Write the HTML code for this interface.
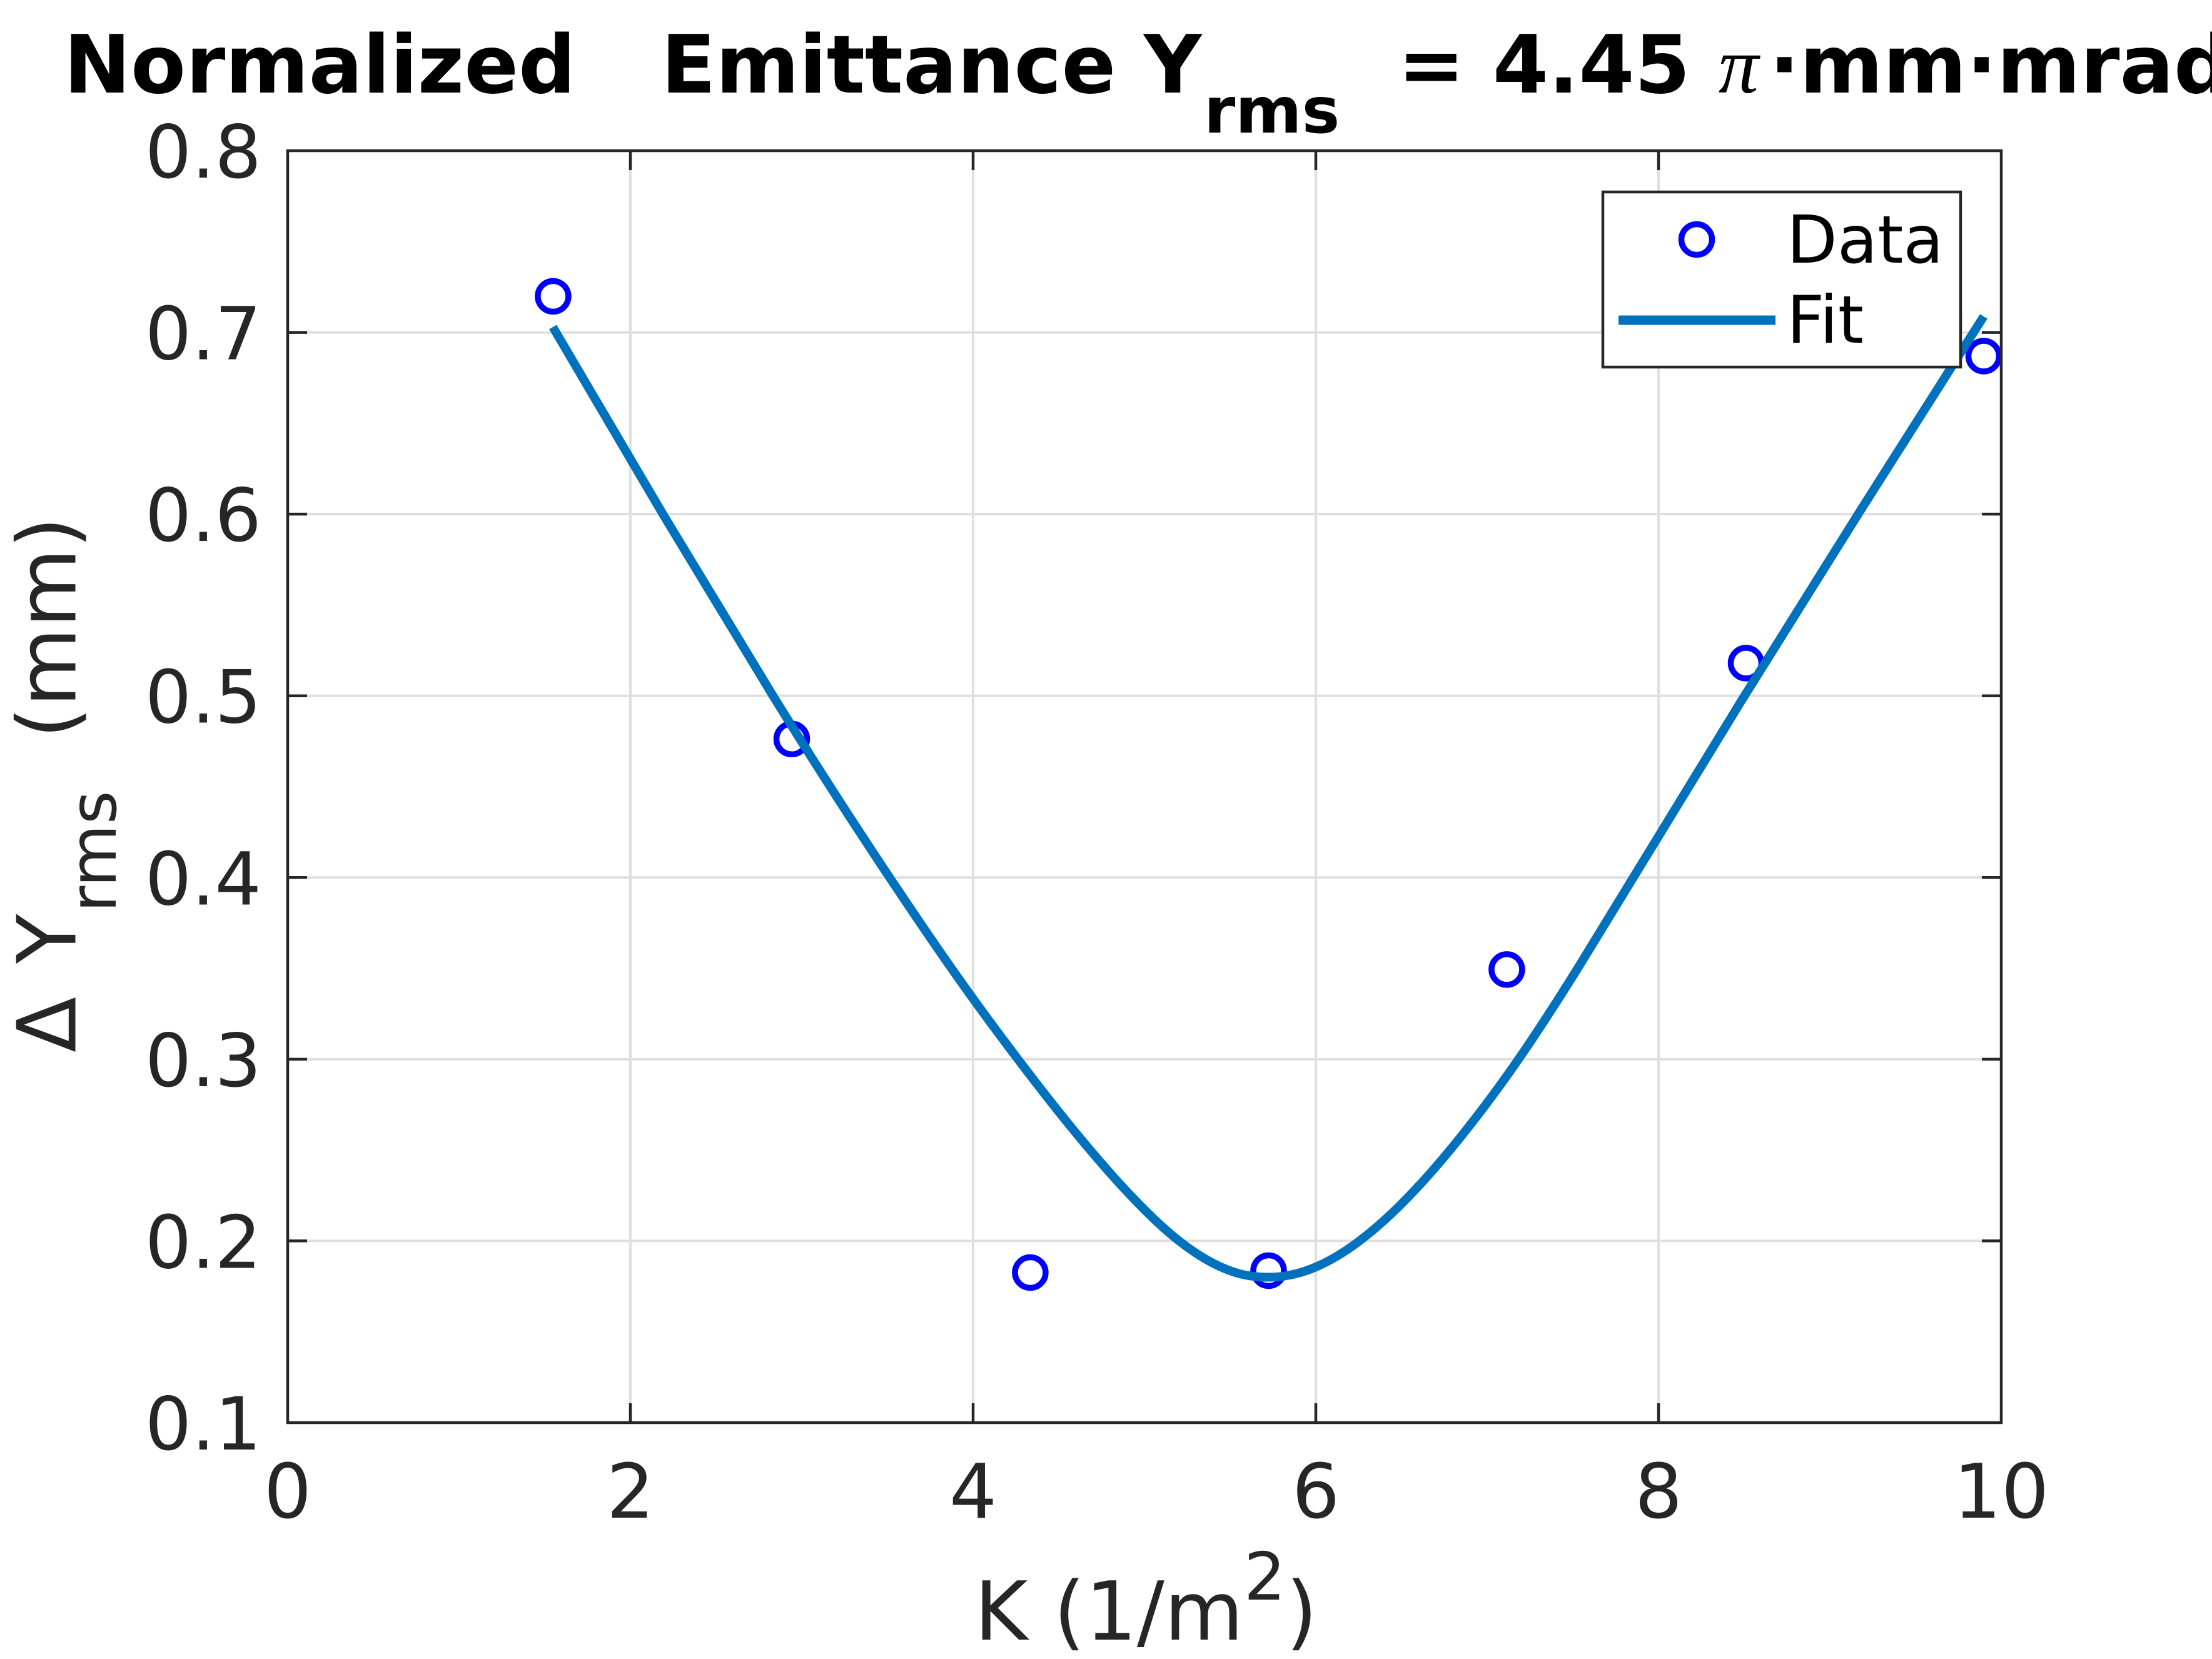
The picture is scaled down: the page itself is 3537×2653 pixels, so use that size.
<!DOCTYPE html>
<html>
<head>
<meta charset="utf-8">
<style>
html,body{margin:0;padding:0;background:#fff;}
svg{display:block;}
text{font-family:"DejaVu Sans","Liberation Sans",sans-serif;}
</style>
</head>
<body>
<svg width="3537" height="2653" viewBox="0 0 3537 2653" xmlns="http://www.w3.org/2000/svg">
<rect x="0" y="0" width="3537" height="2653" fill="#ffffff"/>

<!-- grid -->
<g stroke="#dfdfdf" stroke-width="4">
<line x1="1008" y1="241" x2="1008" y2="2275"/>
<line x1="1556" y1="241" x2="1556" y2="2275"/>
<line x1="2104" y1="241" x2="2104" y2="2275"/>
<line x1="2652" y1="241" x2="2652" y2="2275"/>
<line x1="460" y1="531.6" x2="3200" y2="531.6"/>
<line x1="460" y1="822.1" x2="3200" y2="822.1"/>
<line x1="460" y1="1112.7" x2="3200" y2="1112.7"/>
<line x1="460" y1="1403.3" x2="3200" y2="1403.3"/>
<line x1="460" y1="1693.9" x2="3200" y2="1693.9"/>
<line x1="460" y1="1984.4" x2="3200" y2="1984.4"/>
</g>

<!-- ticks -->
<g stroke="#262626" stroke-width="4.5">
<line x1="1008" y1="2275" x2="1008" y2="2244"/>
<line x1="1556" y1="2275" x2="1556" y2="2244"/>
<line x1="2104" y1="2275" x2="2104" y2="2244"/>
<line x1="2652" y1="2275" x2="2652" y2="2244"/>
<line x1="1008" y1="241" x2="1008" y2="272"/>
<line x1="1556" y1="241" x2="1556" y2="272"/>
<line x1="2104" y1="241" x2="2104" y2="272"/>
<line x1="2652" y1="241" x2="2652" y2="272"/>
<line x1="460" y1="531.6" x2="491" y2="531.6"/>
<line x1="460" y1="822.1" x2="491" y2="822.1"/>
<line x1="460" y1="1112.7" x2="491" y2="1112.7"/>
<line x1="460" y1="1403.3" x2="491" y2="1403.3"/>
<line x1="460" y1="1693.9" x2="491" y2="1693.9"/>
<line x1="460" y1="1984.4" x2="491" y2="1984.4"/>
<line x1="3200" y1="531.6" x2="3169" y2="531.6"/>
<line x1="3200" y1="822.1" x2="3169" y2="822.1"/>
<line x1="3200" y1="1112.7" x2="3169" y2="1112.7"/>
<line x1="3200" y1="1403.3" x2="3169" y2="1403.3"/>
<line x1="3200" y1="1693.9" x2="3169" y2="1693.9"/>
<line x1="3200" y1="1984.4" x2="3169" y2="1984.4"/>
</g>

<!-- data circles -->
<g fill="none" stroke="#0000ff" stroke-width="9.5">
<circle cx="884.4" cy="473.9" r="24.5"/>
<circle cx="1266" cy="1181.8" r="24.5"/>
<circle cx="1647.4" cy="2035" r="24.5"/>
<circle cx="2028.5" cy="2032" r="24.5"/>
<circle cx="2409.4" cy="1550.4" r="24.5"/>
<circle cx="2792" cy="1060.4" r="24.5"/>
<circle cx="3172" cy="569.5" r="24.5"/>
</g>

<!-- fit curve -->
<path fill="none" stroke="#0072bd" stroke-width="14" stroke-linejoin="round" stroke-linecap="butt"
d="M884,523
C942.67,623.9 1001.33,723.6 1060,822.2
C1118.33,920.2 1176.67,1016.5 1235,1111
C1296.33,1210.4 1357.67,1306 1419,1398
C1452.67,1448.5 1486.33,1498.4 1520,1546.5
C1554.5,1595.8 1589,1642.8 1623.5,1688.3
C1646.67,1718.9 1669.83,1749.0 1693,1778
C1715.83,1806.5 1738.67,1834.2 1761.5,1860.5
C1784.33,1886.8 1807.17,1911.7 1830,1934.5
C1848.27,1952.8 1866.53,1969.6 1884.8,1984
C1903.07,1998.4 1921.33,2010.5 1939.6,2020
C1953.3,2027.1 1967,2032.8 1980.7,2036.5
C1996.47,2040.8 2012.23,2042.5 2028,2042.5
C2044.2,2042.5 2060.4,2040.3 2076.6,2035.8
C2090.3,2032.0 2104,2026.65 2117.7,2019.8
C2135.97,2010.7 2154.23,1999.1 2172.5,1985.4
C2190.77,1971.7 2209.03,1956.1 2227.3,1938.6
C2250.13,1916.7 2272.97,1892.3 2295.8,1866
C2323.2,1834.5 2350.6,1799.9 2378,1763.5
C2402,1731.6 2426,1697.6 2450,1661.6
C2476.67,1621.6 2503.33,1580 2530,1536.8
C2555,1496.3 2580,1455.45 2605,1414.2
C2665,1315.2 2725,1217.1 2785,1119.9
C2847.33,1018.9 2909.67,919.4 2972,820.9
C3034,722.9 3096,625.2 3158,527.9
L3172,506"/>

<!-- axes box -->
<rect x="460" y="241" width="2740" height="2034" fill="none" stroke="#262626" stroke-width="4.5"/>

<!-- y tick labels -->
<g fill="#262626" font-size="117" text-anchor="end">
<text x="418" y="284">0.8</text>
<text x="418" y="574.6">0.7</text>
<text x="418" y="865.1">0.6</text>
<text x="418" y="1155.7">0.5</text>
<text x="418" y="1446.3">0.4</text>
<text x="418" y="1736.9">0.3</text>
<text x="418" y="2027.4">0.2</text>
<text x="418" y="2318">0.1</text>
</g>

<!-- x tick labels -->
<g fill="#262626" font-size="120" text-anchor="middle">
<text x="460" y="2427">0</text>
<text x="1008" y="2427">2</text>
<text x="1556" y="2427">4</text>
<text x="2104" y="2427">6</text>
<text x="2652" y="2427">8</text>
<text x="3200" y="2427">10</text>
</g>

<!-- x label -->
<g fill="#262626">
<text x="1558" y="2622" font-size="130">K (1/m</text>
<text x="1989" y="2558" font-size="105">2</text>
<text x="2056" y="2622" font-size="130">)</text>
</g>

<!-- y label -->
<g fill="#262626" transform="rotate(-90)">
<text x="-1683" y="120.5" font-size="130">Δ</text>
<text x="-1541" y="120.5" font-size="130">Y</text>
<text x="-1459" y="185" font-size="103">rms</text>
<text x="-1181" y="120.5" font-size="130">(mm)</text>
</g>

<!-- title -->
<g fill="#000000" font-weight="bold">
<text x="102" y="148" font-size="128">Normalized</text>
<text x="1057" y="148" font-size="128">Emittance Y</text>
<text x="1925" y="212" font-size="102">rms</text>
<text x="2235" y="148" font-size="128">= 4.45</text>
<text x="2748" y="148" font-size="128" font-weight="normal" font-style="italic" style="font-family:'Liberation Serif','DejaVu Serif',serif">π</text>
<text x="2829" y="148" font-size="128">·mm·mrad</text>
</g>

<!-- legend -->
<rect x="2563" y="307" width="572" height="280" fill="#ffffff" stroke="#262626" stroke-width="4.5"/>
<circle cx="2713" cy="383" r="24.5" fill="none" stroke="#0000ff" stroke-width="9.5"/>
<line x1="2588" y1="512" x2="2839" y2="512" stroke="#0072bd" stroke-width="15"/>
<g fill="#000000" font-size="105">
<text x="2857" y="420">Data</text>
<text x="2857" y="548">Fit</text>
</g>
</svg>
</body>
</html>
